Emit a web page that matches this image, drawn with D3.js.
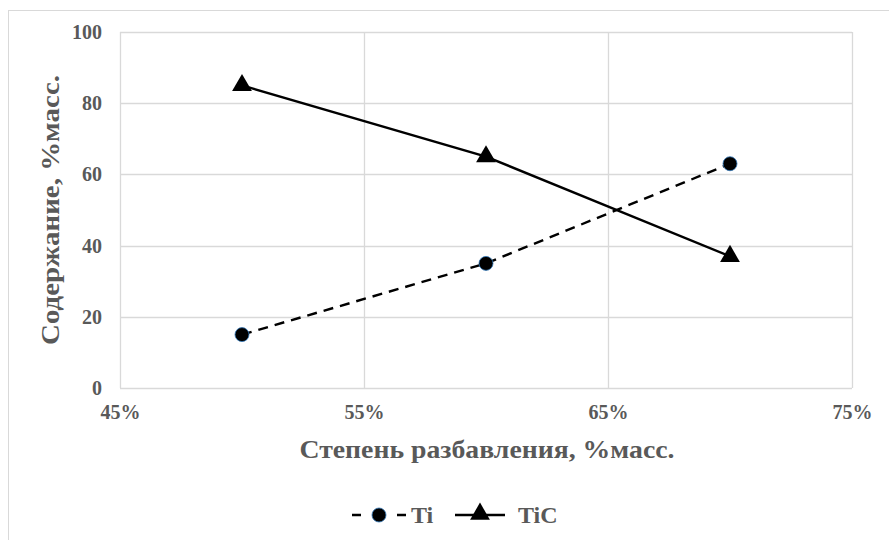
<!DOCTYPE html>
<html><head><meta charset="utf-8">
<script src="https://cdn.jsdelivr.net/npm/d3@7"></script>
<style>body{margin:0;background:#fff}svg text{font-family:'Liberation Serif','Times New Roman',serif;font-weight:bold;fill:#595959}</style>
</head><body><svg id="c" width="889" height="540"></svg>
<script>
const xValues = [0.50, 0.60, 0.70];
const tiValues = [15, 35, 63];
const ticValues = [85, 65, 37];
const xTicks = [0.45, 0.55, 0.65, 0.75];
const yTicks = [0, 20, 40, 60, 80, 100];
const seriesNames = ["Ti", "TiC"];

const svg = d3.select("#c");
svg.append("rect").attr("x",8.5).attr("y",10.5).attr("width",900).attr("height",540).attr("fill","#fff").attr("stroke","#d9d9d9");
const L=120,R=852,T=32,B=388;
const x = d3.scaleLinear().domain([0.45,0.75]).range([L,R]);
const y = d3.scaleLinear().domain([0,100]).range([B,T]);

const g = svg.append("g");
g.selectAll(".hg").data(yTicks).join("line").attr("x1",L).attr("x2",R).attr("y1",d=>Math.round(y(d))+0.5).attr("y2",d=>Math.round(y(d))+0.5).attr("stroke","#d9d9d9").attr("stroke-width",1.3);
g.selectAll(".vg").data(xTicks).join("line").attr("y1",T).attr("y2",B).attr("x1",d=>Math.round(x(d))+0.5).attr("x2",d=>Math.round(x(d))+0.5).attr("stroke","#d9d9d9").attr("stroke-width",1.3);

const yAxis = d3.axisLeft(y).tickValues(yTicks).tickSize(0).tickPadding(18);
const ya = svg.append("g").attr("transform",`translate(${L},0)`).call(yAxis);
ya.select(".domain").remove();
ya.attr("font-family",null).attr("font-size",null);
ya.selectAll("text").style("font-size","20px").attr("fill","#595959");
const xAxis = d3.axisBottom(x).tickValues(xTicks).tickSize(0).tickPadding(17).tickFormat(d3.format(".0%"));
const xa = svg.append("g").attr("transform",`translate(0,${B})`).call(xAxis);
xa.select(".domain").remove();
xa.attr("font-family",null).attr("font-size",null);
xa.selectAll("text").style("font-size","20px").attr("fill","#595959");

const line = d3.line().x(d=>x(d[0])).y(d=>y(d[1]));
const tiData = xValues.map((v,i)=>[v,tiValues[i]]);
const ticData = xValues.map((v,i)=>[v,ticValues[i]]);
svg.append("path").datum(tiData).attr("d",line).attr("fill","none").attr("stroke","#000").attr("stroke-width",2.4).attr("stroke-dasharray","10,7");
svg.append("path").datum(ticData).attr("d",line).attr("fill","none").attr("stroke","#000").attr("stroke-width",2.4);
svg.selectAll(".ti").data(tiData).join("circle").attr("cx",d=>x(d[0])).attr("cy",d=>y(d[1])).attr("r",7).attr("fill","#000").attr("stroke","#2e75b6").attr("stroke-width",0.8);
const tri = d3.symbol().type(d3.symbolTriangle).size(170);
svg.selectAll(".tic").data(ticData).join("path").attr("d",tri).attr("transform",d=>`translate(${x(d[0])},${y(d[1])})`).attr("fill","#000");

svg.append("text").attr("x",487).attr("y",458).attr("text-anchor","middle").style("font-size","26px").attr("textLength",375).attr("lengthAdjust","spacingAndGlyphs").text("Степень разбавления, %масс.");
svg.append("text").attr("transform","translate(59,210) rotate(-90)").attr("text-anchor","middle").style("font-size","26px").attr("textLength",270).attr("lengthAdjust","spacingAndGlyphs").text("Содержание, %масс.");

const ly = 515;
const lg = svg.append("g");
lg.append("line").attr("x1",352).attr("x2",406).attr("y1",ly).attr("y2",ly).attr("stroke","#000").attr("stroke-width",2.4).attr("stroke-dasharray","9,36");
lg.append("circle").attr("cx",379).attr("cy",ly).attr("r",7).attr("fill","#000").attr("stroke","#2e75b6").attr("stroke-width",0.8);
lg.append("text").attr("x",411).attr("y",ly+8).style("font-size","24px").text(seriesNames[0]);
lg.append("line").attr("x1",455).attr("x2",505).attr("y1",ly).attr("y2",ly).attr("stroke","#000").attr("stroke-width",2.4);
lg.append("path").attr("d",tri).attr("transform",`translate(480,${ly-1})`).attr("fill","#000");
lg.append("text").attr("x",518).attr("y",ly+8).style("font-size","24px").text(seriesNames[1]);
</script></body></html>
